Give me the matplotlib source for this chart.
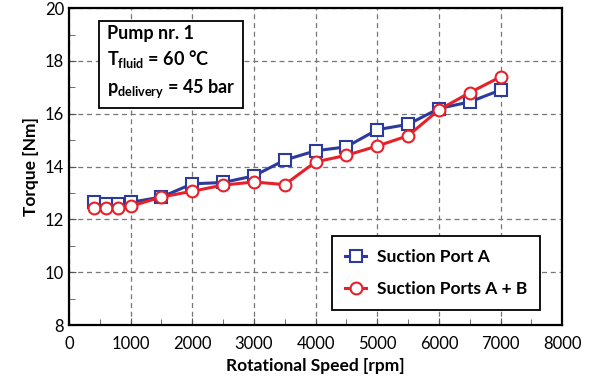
import matplotlib
matplotlib.use("Agg")
import matplotlib.pyplot as plt
from matplotlib.ticker import MultipleLocator

plt.rcParams["font.family"] = ["Lato", "DejaVu Sans"]
plt.rcParams["mathtext.fontset"] = "custom"
plt.rcParams["mathtext.rm"] = "Lato"
plt.rcParams["mathtext.bf"] = "Lato:bold"

speed = [400, 600, 800, 1000, 1500, 2000, 2500, 3000, 3500, 4000,
         4500, 5000, 5500, 6000, 6500, 7000]
torque_a = [12.65, 12.6, 12.6, 12.65, 12.85, 13.35, 13.4, 13.65, 14.25, 14.6,
            14.75, 15.4, 15.6, 16.2, 16.45, 16.9]
torque_ab = [12.42, 12.45, 12.42, 12.5, 12.85, 13.07, 13.3, 13.42, 13.32, 14.18,
             14.43, 14.78, 15.17, 16.15, 16.8, 17.4]

BLUE = "#2B3A9C"
RED = "#E8202A"

fig = plt.figure(figsize=(6, 3.88), dpi=100)
ax = fig.add_axes([0.115, 0.162, 0.822, 0.817])

ax.plot(speed, torque_a, "-s", color=BLUE, lw=2.2, ms=8, mfc="white",
        mec=BLUE, mew=1.5, label="Suction Port A", zorder=3)
ax.plot(speed, torque_ab, "-o", color=RED, lw=2.2, ms=8.5, mfc="white",
        mec=RED, mew=1.5, label="Suction Ports A + B", zorder=3)

ax.set_xlim(0, 8000)
ax.set_ylim(8, 20)
ax.xaxis.set_major_locator(MultipleLocator(1000))
ax.xaxis.set_minor_locator(MultipleLocator(500))
ax.yaxis.set_major_locator(MultipleLocator(2))
ax.yaxis.set_minor_locator(MultipleLocator(1))
ax.tick_params(which="both", direction="in", labelsize=12, color="#555555")
ax.tick_params(which="major", length=5)
ax.tick_params(which="minor", length=4)
ax.tick_params(axis="x", pad=8)
ax.grid(True, which="major", ls=(0, (4, 3)), color="#777777", lw=0.9)
for sp in ax.spines.values():
    sp.set_linewidth(1.6)

ax.set_xlabel("Rotational Speed [rpm]", fontsize=12.5, fontweight="bold")
ax.set_ylabel("Torque [Nm]", fontsize=12.5, fontweight="bold")

info = ("Pump nr. 1\n"
        r"$\mathbf{T_{fluid}}$ = 60 °C" "\n"
        r"$\mathbf{p_{delivery}}$ = 45 bar")
ax.text(0.077, 0.948, info, transform=ax.transAxes, ha="left", va="top",
        fontsize=13, fontweight="bold", linespacing=1.4,
        bbox=dict(boxstyle="square,pad=0.45", fc="white", ec="black", lw=1.3),
        zorder=5)

leg = ax.legend(loc="lower right", bbox_to_anchor=(0.955, 0.047),
                prop={"weight": "bold", "size": 12.5}, fancybox=False,
                framealpha=1, edgecolor="black", borderpad=0.75,
                borderaxespad=0, labelspacing=0.95, handlelength=1.2,
                handletextpad=0.6)
leg.get_frame().set_linewidth(1.3)
leg.set_zorder(5)

fig.savefig("out.png", dpi=100)
